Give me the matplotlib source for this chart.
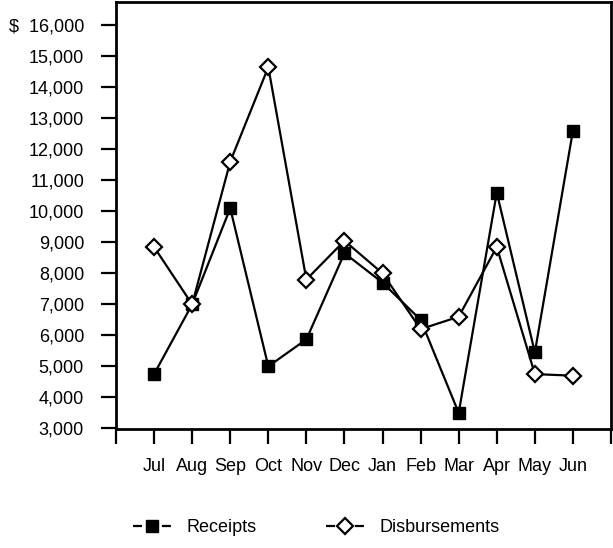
import matplotlib.pyplot as plt
from matplotlib.lines import Line2D
from matplotlib.ticker import FixedLocator, FuncFormatter

plt.rcParams['font.family'] = ['Liberation Sans', 'DejaVu Sans']
plt.rcParams['lines.scale_dashes'] = False

months = ['Jul', 'Aug', 'Sep', 'Oct', 'Nov', 'Dec', 'Jan', 'Feb', 'Mar', 'Apr', 'May', 'Jun']
receipts = [4750, 7000, 10100, 5000, 5870, 8650, 7700, 6500, 3500, 10600, 5450, 12600]
disbursements = [8850, 7000, 11600, 14650, 7800, 9050, 8000, 6200, 6600, 8850, 4750, 4700]
y_ticks = list(range(3000, 17000, 1000))

fig = plt.figure(figsize=(6.13, 5.48), dpi=100)
ax = fig.add_axes([116 / 613, 1 - 429 / 548, 495 / 613, 427 / 548])

x = list(range(1, len(months) + 1))
rec_style = dict(marker='s', ms=8.5, mfc='black', mec='black', mew=1)
dis_style = dict(marker='D', ms=8, mfc='white', mec='black', mew=1.6)
ax.plot(x, receipts, color='black', lw=1.6, zorder=3, **rec_style)
ax.plot(x, disbursements, color='black', lw=1.6, zorder=4, **dis_style)

ax.set_xlim(0, len(months) + 1)
ax.set_ylim(2980, 16750)

ax.xaxis.set_major_locator(FixedLocator(range(0, len(months) + 2)))
ax.set_xticklabels([''] + months + [''])
ax.yaxis.set_major_locator(FixedLocator(y_ticks))
ax.yaxis.set_major_formatter(FuncFormatter(
    lambda v, p: ('$  ' if v == y_ticks[-1] else '') + f'{int(v):,}'))

for s in ax.spines.values():
    s.set_linewidth(2)
ax.tick_params(axis='both', direction='out', length=11, width=1.6,
               labelsize=13, color='black')
ax.tick_params(axis='y', pad=12)
ax.tick_params(axis='x', pad=10)

# legend keys: short dash on each side of the marker, with gaps
dash = (0, (6.5, 14.3, 6.5, 100))
def key(style):
    return (Line2D([], [], color='black', lw=1.6, linestyle=dash),
            Line2D([], [], linestyle='none', **style))

fig.legend([key(rec_style), key(dis_style)], ['Receipts', 'Disbursements'],
           loc='center left', bbox_to_anchor=(117 / 613, 1 - 528 / 548),
           ncol=2, frameon=False, fontsize=13, handlelength=2.1,
           handletextpad=0.85, columnspacing=3.85)

fig.savefig('out.png', dpi=100)
